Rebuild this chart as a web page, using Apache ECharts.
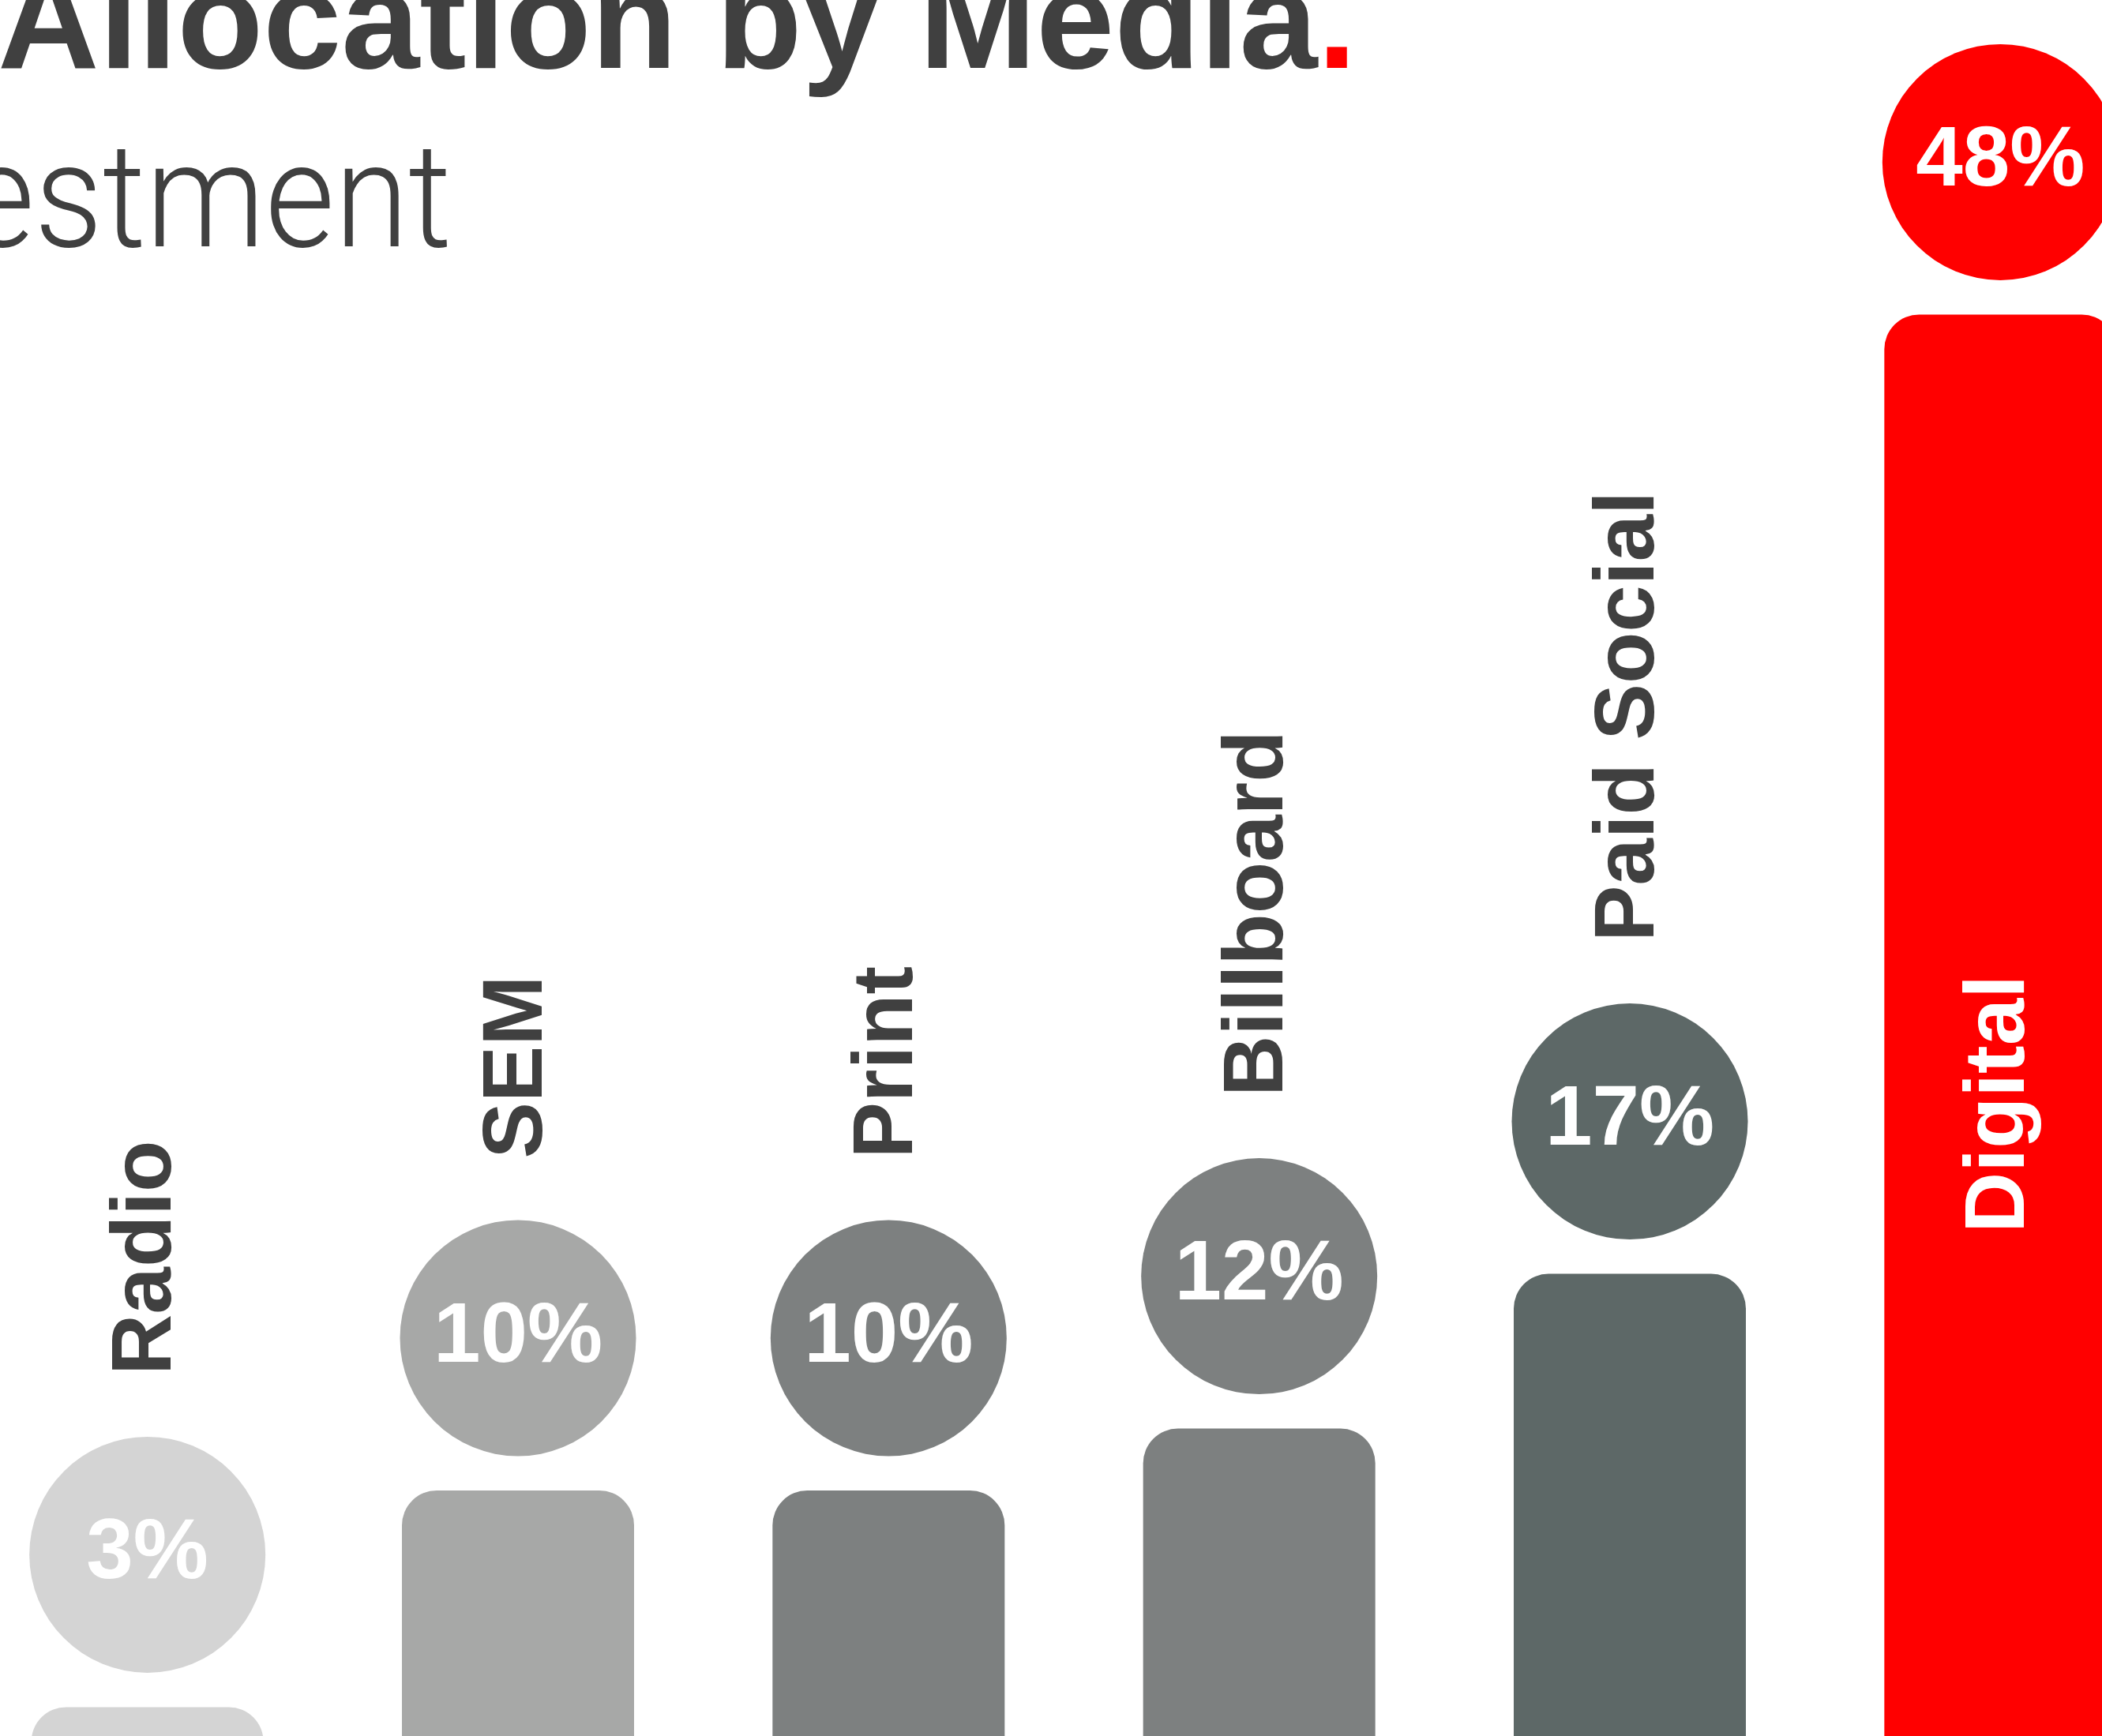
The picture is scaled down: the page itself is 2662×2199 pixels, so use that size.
<!DOCTYPE html>
<html>
<head>
<meta charset="utf-8">
<title>Budget Allocation by Media</title>
<script src="https://cdn.jsdelivr.net/npm/echarts@6/dist/echarts.min.js"></script>
<style>
  html, body { margin: 0; padding: 0; background: #ffffff; }
  #chart { width: 2662px; height: 2199px; }
</style>
</head>
<body>
<div id="chart"></div>
<script>
// Media channels and their share of the total budget (%)
const categories = ['Radio', 'SEM', 'Print', 'Billboard', 'Paid Social', 'Digital'];
const shares = [3, 10, 10, 12, 17, 48];

// Palette: greys get darker as the share grows, the leader is red
const palette = ['#d4d4d4', '#a7a8a7', '#7d8080', '#7d8080', '#5d6867', '#ff0000'];

const BOLD = '"Liberation Sans", Arial, Helvetica, sans-serif';
const INK = '#404040';
const CIRCLE = 299;       // head diameter
const HEAD_GAP = 193;     // bar top to head centre
const NAME_GAP = 78;      // head top to channel name

const chart = echarts.init(document.getElementById('chart'), null, { renderer: 'canvas' });

const barData = shares.map((v, i) => {
  const item = { value: v, itemStyle: { color: palette[i] } };
  if (i === shares.length - 1) {
    // the tallest bar carries its name inside
    item.label = { position: 'insideBottom', distance: 718, color: '#ffffff' };
  }
  return item;
});

const headData = shares.map((v, i) => ({ value: v, itemStyle: { color: palette[i] } }));

chart.setOption({
  animation: false,
  backgroundColor: '#ffffff',
  graphic: [
    {
      type: 'text',
      x: 1718,
      y: 37,
      style: {
        text: 'Budget Allocation by Media{dot|.}',
        align: 'right',
        verticalAlign: 'middle',
        font: 'bold 178px ' + BOLD,
        fill: INK,
        rich: {
          dot: { font: 'bold 178px ' + BOLD, fill: '#ff0000' }
        }
      }
    },
    {
      type: 'text',
      x: 572,
      y: 265,
      scaleX: 0.915,
      style: {
        text: 'Share of Total Investment',
        align: 'right',
        verticalAlign: 'middle',
        font: '300 186px Roboto, "Open Sans", "Liberation Sans", sans-serif',
        fill: INK
      }
    }
  ],
  grid: {
    left: -48, right: -106, top: 320, bottom: -81,
    containLabel: false,
    outerBoundsMode: 'none'
  },
  xAxis: {
    type: 'category',
    data: categories,
    axisLine: { show: false },
    axisTick: { show: false },
    axisLabel: { show: false },
    splitLine: { show: false }
  },
  yAxis: {
    type: 'value',
    min: 0,
    max: 50,
    show: false,
    splitLine: { show: false }
  },
  series: [
    {
      name: 'Share',
      type: 'bar',
      data: barData,
      barWidth: 294,
      itemStyle: { borderRadius: 44 },
      label: {
        show: true,
        formatter: '{b}',
        position: 'top',
        distance: HEAD_GAP + CIRCLE / 2 + NAME_GAP,
        rotate: 90,
        align: 'left',
        verticalAlign: 'middle',
        fontFamily: BOLD,
        fontWeight: 'bold',
        fontSize: 107,
        color: INK
      },
      z: 2
    },
    {
      name: 'Share label',
      type: 'scatter',
      data: headData,
      symbol: 'circle',
      symbolSize: CIRCLE,
      symbolOffset: [0, -HEAD_GAP],
      itemStyle: { opacity: 1 },
      label: {
        show: true,
        position: 'inside',
        formatter: '{c}%',
        fontFamily: BOLD,
        fontWeight: 'bold',
        fontSize: 107,
        color: '#ffffff'
      },
      z: 3
    }
  ]
});
</script>
</body>
</html>
